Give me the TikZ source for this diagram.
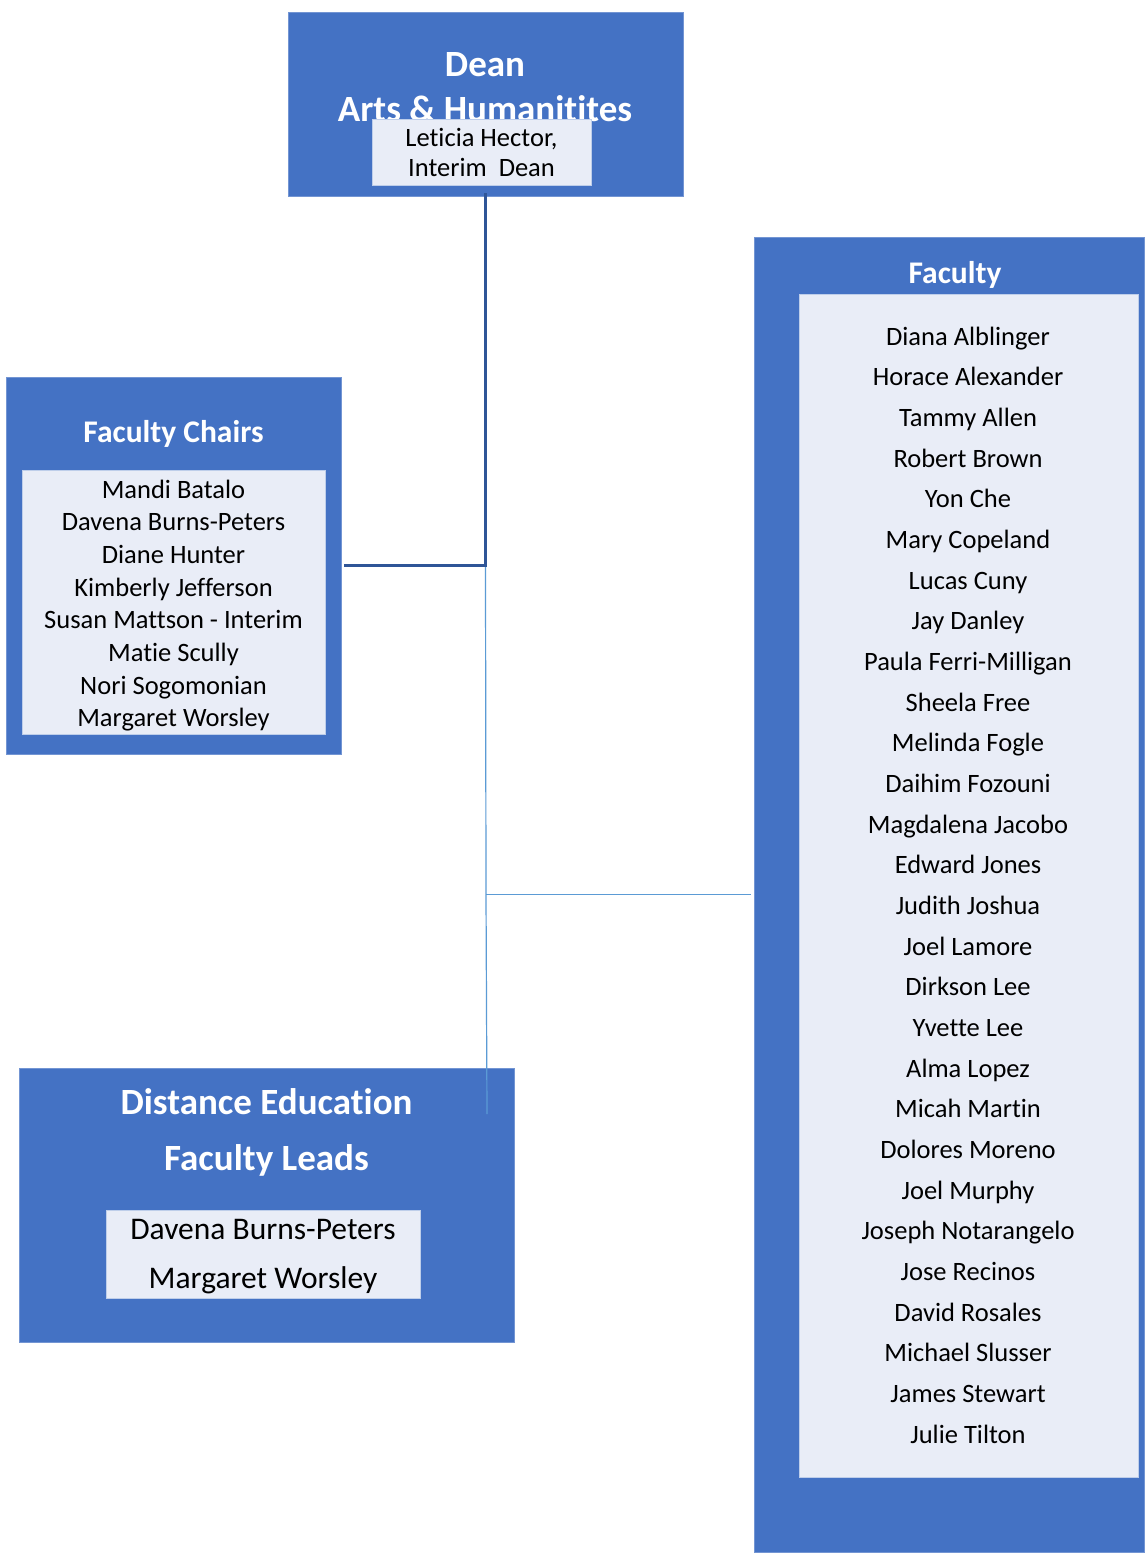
\documentclass[tikz,border=0pt]{standalone}
\usepackage{fontspec}
\setmainfont{Carlito}[Ligatures={NoCommon,NoContextual}]
\definecolor{boxblue}{HTML}{4472C4}
\definecolor{panel}{HTML}{E9EDF7}
\definecolor{linedark}{HTML}{2F5597}
\definecolor{linelight}{HTML}{5B9BD5}
\begin{document}
\begin{tikzpicture}[x=1pt,y=-1pt,
  bluebox/.style={fill=boxblue, draw=boxblue!75!white, line width=0.8pt, inner sep=0pt, outer sep=0pt},
  panelbox/.style={fill=panel, draw=boxblue!35!white, line width=0.6pt, inner sep=0pt, outer sep=0pt},
  titletext/.style={anchor=base, inner sep=0pt, text=white, font=\bfseries\fontsize{31.5}{38}\selectfont},
  bigtitle/.style={anchor=base, inner sep=0pt, text=white, font=\bfseries\fontsize{37}{44}\selectfont},
  nametext/.style={anchor=base, inner sep=0pt, text=black, font=\fontsize{26.5}{32}\selectfont},
  denames/.style={anchor=base, inner sep=0pt, text=black, font=\fontsize{31.5}{38}\selectfont},
  darkline/.style={draw=linedark, line width=2.2pt},
  lightline/.style={draw=linelight, line width=1.2pt}]
\useasboundingbox (0,0) rectangle (1144,1553);
\fill[white] (0,0) rectangle (1144,1553);

% Dean
\node[bluebox, minimum width=395pt, minimum height=184pt] (dean) at (485.5,104) {};
\node[bigtitle] (deant1) at (485,76) {Dean};
\node[bigtitle] (deant2) at (485,121) {Arts \& Humanitites};
\node[panelbox, minimum width=219pt, minimum height=66pt] (deanpanel) at (481.5,152) {};
\node[nametext] (deann1) at (481.5,146) {Leticia Hector,};
\node[nametext] (deann2) at (481.5,176) {Interim\ \ Dean};

% Faculty Chairs
\node[bluebox, minimum width=335pt, minimum height=377pt] (chairs) at (173.5,565.5) {};
\node[titletext] (chairst) at (173.5,442) {Faculty Chairs};
\node[panelbox, minimum width=303pt, minimum height=264pt] (chairspanel) at (173.5,602) {};
\foreach \n [count=\i from 0] in {Mandi Batalo, Davena Burns-Peters, Diane Hunter, Kimberly Jefferson, Susan Mattson - Interim, Matie Scully, Nori Sogomonian, Margaret Worsley}
  \node[nametext] (chair\i) at (173.5,{498+32.7*\i}) {\n};

% Faculty
\node[bluebox, minimum width=390pt, minimum height=1315pt] (faculty) at (949,894.5) {};
\node[titletext] (facultyt) at (955,283) {Faculty};
\node[panelbox, minimum width=339pt, minimum height=1183pt] (facultypanel) at (968.5,885.5) {};
\foreach \n [count=\i from 0] in {Diana Alblinger, Horace Alexander, Tammy Allen, Robert Brown, Yon Che, Mary Copeland, Lucas Cuny, Jay Danley, Paula Ferri-Milligan, Sheela Free, Melinda Fogle, Daihim Fozouni, Magdalena Jacobo, Edward Jones, Judith Joshua, Joel Lamore, Dirkson Lee, Yvette Lee, Alma Lopez, Micah Martin, Dolores Moreno, Joel Murphy, Joseph Notarangelo, Jose Recinos, David Rosales, Michael Slusser, James Stewart, Julie Tilton}
  \node[nametext] (fac\i) at (968,{345+40.67*\i}) {\n};

% Distance Education
\node[bluebox, minimum width=495pt, minimum height=274pt] (de) at (266.5,1205) {};
\node[bigtitle] (det1) at (266.5,1114) {Distance Education};
\node[bigtitle] (det2) at (266.5,1170) {Faculty Leads};
\node[panelbox, minimum width=314pt, minimum height=88pt] (depanel) at (263,1254) {};
\node[denames] (den1) at (263,1239) {Davena Burns-Peters};
\node[denames] (den2) at (263,1288) {Margaret Worsley};

% Connectors
\coordinate (j1) at (485.5,565.5);
\coordinate (j2) at (486,894.5);
\coordinate (deend) at (487,1114);
\draw[lightline] (j1) -- (j2) -- (deend);
\draw[lightline] (j2) -- ([xshift=-3pt]faculty.west);
\draw[darkline] ([yshift=3pt]dean.south) -- (j1) -- ([xshift=3pt]chairs.east);
\end{tikzpicture}
\end{document}
